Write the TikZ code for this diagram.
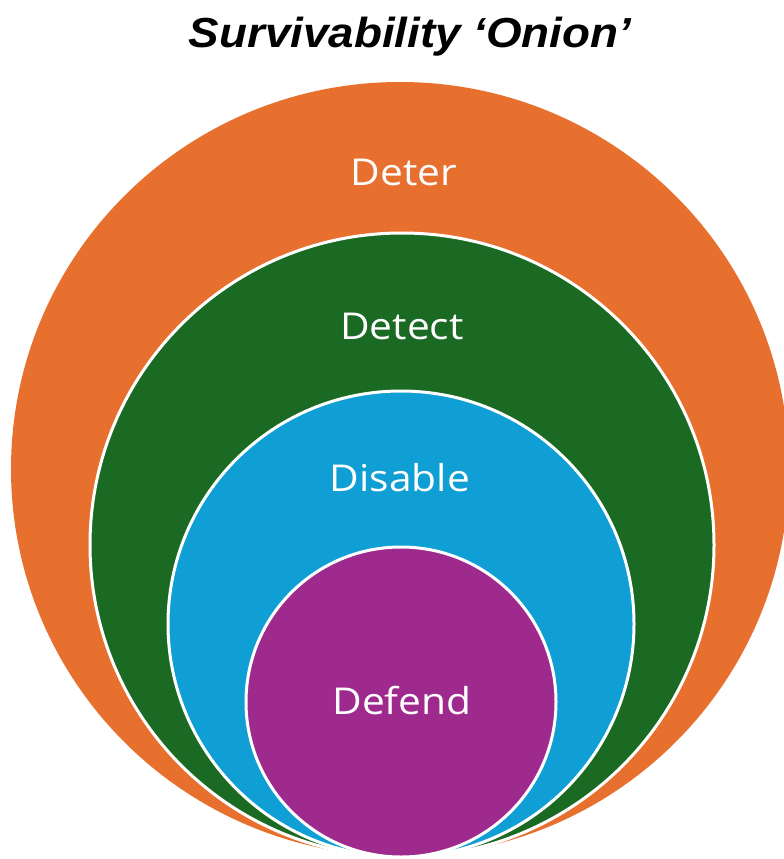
\documentclass[tikz,border=0pt]{standalone}
\usepackage{fontspec}
\usepackage{graphicx}
\usetikzlibrary{shapes.geometric}
\setmainfont{Open Sans}
\newfontfamily\titlefont{Liberation Sans}
\definecolor{deterC}{HTML}{E8702F}
\definecolor{detectC}{HTML}{1B6A23}
\definecolor{disableC}{HTML}{0F9FD5}
\definecolor{defendC}{HTML}{9F2A8D}
\newcommand{\widetext}[1]{\scalebox{1.1}[1]{#1}}
\tikzset{
  layer/.style={circle, inner sep=0pt, draw=white, line width=3pt},
  layerlabel/.style={anchor=base, text=white, inner sep=0pt,
    font=\fontsize{37}{40}\selectfont},
}
\begin{document}
\begin{tikzpicture}[x=1pt, y=-1pt]
  \useasboundingbox[fill=white] (0,0) rectangle (784,859);
  % nested layers, outermost first, all touching at the bottom
  \node[ellipse, inner sep=0pt, fill=deterC, minimum width=778pt, minimum height=774pt] (deter) at (400,469) {};
  \node[layer, fill=detectC, minimum size=624pt] (detect) at (402,545) {};
  \node[layer, fill=disableC, minimum size=466pt] (disable) at (401,624) {};
  \node[layer, fill=defendC, minimum size=310pt] (defend) at (401,702) {};
  % layer names
  \node[layerlabel] (tdeter) at (404,185) {\widetext{Deter}};
  \node[layerlabel] (tdetect) at (402,339) {\widetext{Detect}};
  \node[layerlabel] (tdisable) at (400,491) {\widetext{Disable}};
  \node[layerlabel] (tdefend) at (402,714) {\widetext{Defend}};
  % heading
  \node[anchor=base, inner sep=0pt, font=\titlefont\bfseries\itshape\fontsize{42}{46}\selectfont]
    (title) at (410,48) {\scalebox{1.09}[1]{Survivability ‘Onion’}};
\end{tikzpicture}
\end{document}
